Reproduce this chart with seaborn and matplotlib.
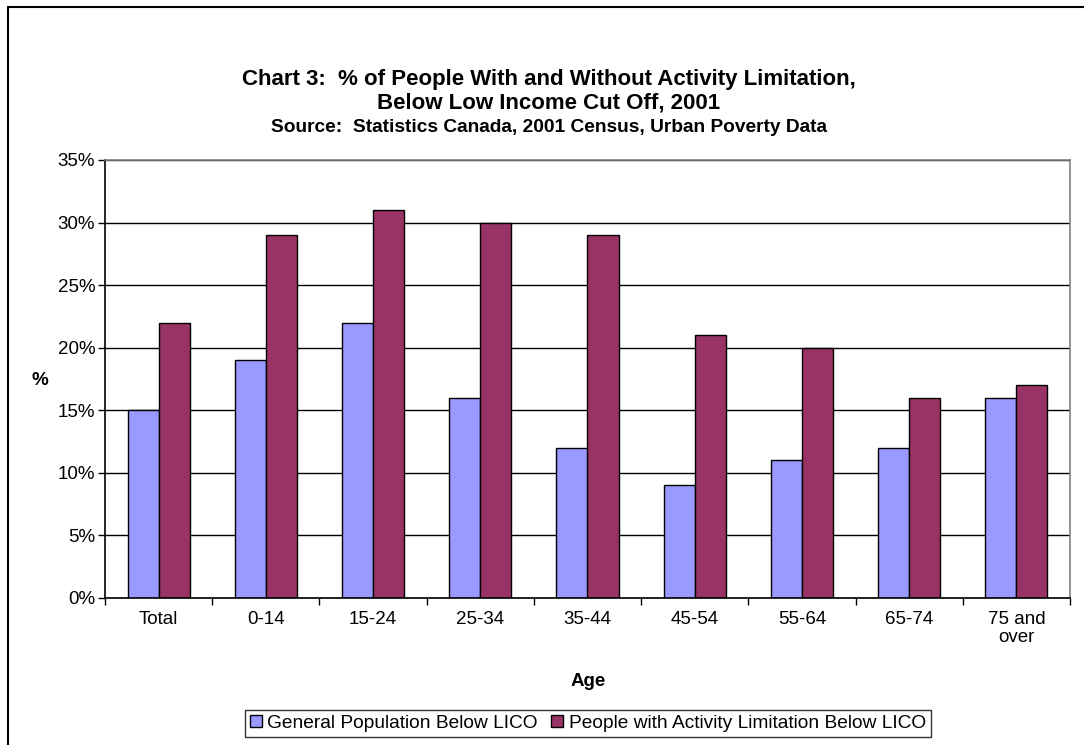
import matplotlib
matplotlib.use("Agg")
import matplotlib.pyplot as plt
from matplotlib.lines import Line2D
from matplotlib.ticker import FixedLocator, PercentFormatter
import seaborn as sns
import pandas as pd

age_groups = ["Total", "0-14", "15-24", "25-34", "35-44", "45-54", "55-64", "65-74", "75 and\nover"]
general_pop = [15, 19, 22, 16, 12, 9, 11, 12, 16]
activity_limited = [22, 29, 31, 30, 29, 21, 20, 16, 17]
series_names = ["General Population Below LICO", "People with Activity Limitation Below LICO"]
y_ticks = [0, 5, 10, 15, 20, 25, 30, 35]

df = pd.DataFrame({
    "Age": age_groups * 2,
    "Value": general_pop + activity_limited,
    "Series": [series_names[0]] * len(age_groups) + [series_names[1]] * len(age_groups),
})

sns.set_theme(style="white")
plt.rcParams["font.family"] = ["Liberation Sans", "DejaVu Sans"]
plt.rcParams["text.color"] = "black"
plt.rcParams["axes.labelcolor"] = "black"
plt.rcParams["xtick.color"] = "black"
plt.rcParams["ytick.color"] = "black"

W, H = 1084, 745
fig = plt.figure(figsize=(W / 100, H / 100), dpi=100)
ax = fig.add_axes([105 / W, 1 - 598 / H, (1070 - 105) / W, (598 - 160) / H])

palette = {series_names[0]: "#9999FF", series_names[1]: "#993366"}
sns.barplot(data=df, x="Age", y="Value", hue="Series", palette=palette,
            width=0.58, gap=0, edgecolor="black", linewidth=1.0,
            saturation=1, ax=ax, legend=True)

ax.set_xlim(-0.5, len(age_groups) - 0.5)
ax.set_ylim(0, 35)
ax.yaxis.set_major_locator(FixedLocator(y_ticks))
ax.yaxis.set_major_formatter(PercentFormatter(decimals=0))
ax.grid(axis="y", color="black", linewidth=1.0)
ax.set_axisbelow(True)

# frame: black left/bottom axes, grey top/right plot border
for side in ["left", "bottom"]:
    ax.spines[side].set_color("black")
    ax.spines[side].set_linewidth(1.2)
for side in ["top", "right"]:
    ax.spines[side].set_color("#808080")
    ax.spines[side].set_linewidth(1.2)

ax.tick_params(axis="y", which="major", left=True, length=5, width=1.0,
               color="black", labelsize=13.5, pad=2, labelcolor="black")
ax.tick_params(axis="x", which="major", bottom=False, length=0,
               labelsize=13.5, pad=9, labelcolor="black")
ax.xaxis.set_minor_locator(FixedLocator([i - 0.5 for i in range(len(age_groups) + 1)]))
ax.tick_params(axis="x", which="minor", bottom=True, length=5, width=1.0, color="black")
for lbl in ax.get_xticklabels():
    lbl.set_linespacing(1.15)

ax.set_xlabel("")
ax.set_ylabel("")
fig.text(588 / W, 1 - 681 / H, "Age", fontsize=13.5, fontweight="bold",
         ha="center", va="center")
fig.text(40 / W, 1 - 380 / H, "%", fontsize=13.5, fontweight="bold",
         ha="center", va="center")

tx = 549 / W
fig.text(tx, 1 - 80 / H, "Chart 3:  % of People With and Without Activity Limitation,",
         fontsize=16, fontweight="bold", ha="center", va="center")
fig.text(tx, 1 - 103 / H, "Below Low Income Cut Off, 2001",
         fontsize=16, fontweight="bold", ha="center", va="center")
fig.text(tx, 1 - 127 / H, "Source:  Statistics Canada, 2001 Census, Urban Poverty Data",
         fontsize=13.8, fontweight="bold", ha="center", va="center")

leg = ax.legend(loc="center", bbox_to_anchor=(588 / W, 1 - 723.5 / H),
                bbox_transform=fig.transFigure, ncol=2, frameon=True,
                fontsize=13.8, handlelength=0.6, handleheight=0.6,
                handletextpad=0.3, columnspacing=0.7, borderpad=0.25,
                borderaxespad=0, fancybox=False)
leg.get_frame().set_edgecolor("black")
leg.get_frame().set_linewidth(1.0)
for h in leg.legend_handles:
    h.set_edgecolor("black")
    h.set_linewidth(1.0)

# outer chart frame
fig.add_artist(Line2D([7.5 / W, 7.5 / W], [0, 1 - 6.5 / H], color="black",
                      linewidth=1.5, transform=fig.transFigure))
fig.add_artist(Line2D([7.5 / W, 1], [1 - 6.5 / H, 1 - 6.5 / H], color="black",
                      linewidth=1.5, transform=fig.transFigure))

fig.savefig("out.png", dpi=100, facecolor="white")
